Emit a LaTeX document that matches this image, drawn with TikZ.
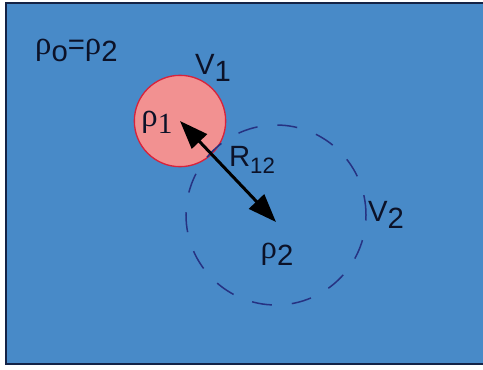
\documentclass[tikz,border=0pt]{standalone}
\usepackage{fontspec}
\setmainfont{Liberation Sans}
\newfontfamily\rhofont{Liberation Serif}
\usetikzlibrary{arrows.meta,positioning}
\definecolor{seablue}{RGB}{72,138,200}
\definecolor{edgenavy}{RGB}{20,35,70}
\definecolor{blobpink}{RGB}{242,145,145}
\definecolor{blobred}{RGB}{215,35,60}
\definecolor{dashnavy}{RGB}{38,50,130}
\definecolor{inkdark}{RGB}{12,18,40}
\newcommand{\rh}{{\rhofont\fontsize{28}{30}\selectfont ρ}}
\newcommand{\sub}[1]{\raisebox{-0.45ex}{#1}}

\begin{document}
\begin{tikzpicture}[x=0.03cm,y=-0.03cm,
  lbl/.style={text=inkdark,inner sep=0pt,font=\fontsize{25}{28}\selectfont},
  biarrow/.style={line width=0.09cm,draw=black,fill=black,
    {Triangle[length=0.85cm,width=0.62cm]}-{Triangle[length=0.85cm,width=0.62cm]}}]
\useasboundingbox (0,0) rectangle (483,370);
\fill[white] (0,0) rectangle (483,370);
\fill[seablue] (6,3) rectangle (483,364);
\draw[edgenavy,line width=0.06cm] (483,3) -- (6,3) -- (6,364) -- (483,364);
% the two volumes
\node[circle,minimum size=2.74cm,inner sep=0pt,fill=blobpink,draw=blobred,line width=0.04cm] (v1) at (180,121) {};
\node[circle,minimum size=5.4cm,inner sep=0pt,draw=dashnavy,line width=0.045cm,dash pattern=on 0.6cm off 0.6cm] (v2) at (276,215) {};
\coordinate (tip2) at (276,222);
\draw[biarrow] (v1.center) -- (tip2);
% labels
\node[lbl,anchor=west] (rho0) at (35,50) {\rh\sub{o}=\rh\sub{2}};
\node[lbl] (lv1) at (213,68) {V\sub{1}};
\node[lbl] (lrho1) at (157,122) {\rh\sub{\rhofont 1}};
\node[lbl] (lr12) at (252,160) {R\sub{\fontsize{19}{20}\selectfont 12}};
\node[lbl] (lv2) at (386,215) {V\sub{2}};
\node[lbl] (lrho2) at (277,254) {\rh\sub{2}};
\end{tikzpicture}
\end{document}
